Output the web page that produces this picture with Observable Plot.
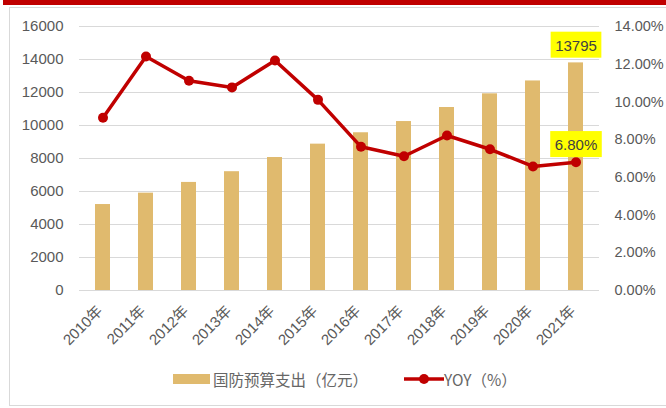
<!DOCTYPE html>
<html><head><meta charset="utf-8">
<script src="https://cdn.jsdelivr.net/npm/d3@7"></script>
<script src="https://cdn.jsdelivr.net/npm/@observablehq/plot@0.6"></script>
<style>
body{margin:0;background:#fff;}
#wrap{position:relative;width:666px;height:408px;overflow:hidden;font-family:"Liberation Sans","Noto Sans CJK SC",sans-serif;}
#topbar{position:absolute;left:3px;top:0;width:663px;height:5px;background:#C00000;}
#frame{position:absolute;left:9px;top:7px;width:680px;height:399px;border:1px solid #D9D9D9;box-sizing:border-box;}
#chart{position:absolute;left:0;top:0;}
.lg{position:absolute;top:368px;height:22px;line-height:22px;font-size:15.5px;color:#666666;white-space:nowrap;font-family:"Noto Sans CJK SC","Liberation Sans",sans-serif;}
</style>
</head><body>
<div id="wrap">
  <div id="topbar"></div>
  <div id="frame"></div>
  <div id="chart"></div>
  <div class="lg" style="left:173px;top:374px;width:37px;height:10px;background:#E0BA6E;"></div>
  <div class="lg" id="lg1" style="left:213px;"></div>
  <svg class="lg" style="left:404px;top:372px;" width="40" height="14"><line x1="0" y1="7" x2="40" y2="7" stroke="#C00000" stroke-width="3.5"/><circle cx="20" cy="7" r="5" fill="#C00000"/></svg>
  <div class="lg" id="lg2" style="left:444px;"></div>
</div>
<script>
const years = ["2010年","2011年","2012年","2013年","2014年","2015年","2016年","2017年","2018年","2019年","2020年","2021年"];
const budget = [5210, 5900, 6550, 7200, 8060, 8870, 9560, 10240, 11090, 11920, 12700, 13795];
const yoy = [9.16, 12.41, 11.12, 10.77, 12.20, 10.11, 7.62, 7.12, 8.22, 7.49, 6.58, 6.80];
const leftTicks = [0, 2000, 4000, 6000, 8000, 10000, 12000, 14000, 16000];
const rightTicks = [0, 2, 4, 6, 8, 10, 12, 14];
const rightTickLabels = ["0.00%","2.00%","4.00%","6.00%","8.00%","10.00%","12.00%","14.00%"];
const legendBar = "国防预算支出（亿元）";
const legendLine = "YOY（%）";
const labelIndex = 11;

const budgetMax = 16000, yoyMax = 14;
const toLeft = p => p / yoyMax * budgetMax;
const data = years.map((year, i) => ({year, budget: budget[i], yoy: yoy[i], yoyScaled: toLeft(yoy[i])}));
const rightTickPos = rightTicks.map(toLeft);

document.getElementById("lg1").textContent = legendBar;
document.getElementById("lg2").textContent = legendLine;

const chart = Plot.plot({
  width: 666, height: 360,
  marginLeft: 79, marginRight: 67, marginTop: 26, marginBottom: 70,
  style: {fontFamily: "'Liberation Sans','Noto Sans CJK SC',sans-serif", color: "#595959", background: "transparent"},
  x: {domain: years, paddingInner: 0.66, paddingOuter: 0.33, align: 0.5, label: null},
  y: {domain: [0, budgetMax], label: null},
  marks: [
    Plot.ruleY(leftTicks, {stroke: "#D9D9D9", strokeWidth: 1}),
    Plot.barY(data, {x: "year", y: "budget", fill: "#E0BA6E"}),
    Plot.lineY(data, {x: "year", y: "yoyScaled", stroke: "#C00000", strokeWidth: 3.5}),
    Plot.dot(data, {x: "year", y: "yoyScaled", r: 5, fill: "#C00000"}),
    Plot.axisY({ticks: leftTicks, anchor: "left", tickSize: 0, tickPadding: 16, fontSize: 15, label: null,
      tickFormat: d => String(d)}),
    Plot.axisY({ticks: rightTickPos, anchor: "right", tickSize: 0, tickPadding: 15, fontSize: 14.5, label: null,
      tickFormat: d => rightTickLabels[rightTickPos.indexOf(d)]}),
    Plot.axisX({tickRotate: -45, tickSize: 0, tickPadding: 18, dx: -3, fontSize: 15, label: null}),
    Plot.text([data[labelIndex]], {x: "year", y: "budget", text: d => String(d.budget), dy: -17, fontSize: 15, fill: "#404040"}),
    Plot.text([data[labelIndex]], {x: "year", y: "yoyScaled", text: d => d.yoy.toFixed(2) + "%", dy: -17, fontSize: 15, fill: "#404040"})
  ]
});
document.getElementById("chart").appendChild(chart);

// yellow highlight boxes behind the two data labels
const labelTexts = [String(budget[labelIndex]), yoy[labelIndex].toFixed(2) + "%"];
chart.querySelectorAll("text").forEach(t => {
  if (labelTexts.includes(t.textContent)) {
    const b = t.getBBox();
    const r = document.createElementNS("http://www.w3.org/2000/svg", "rect");
    r.setAttribute("x", b.x - 4.5);
    r.setAttribute("y", b.y - 5);
    r.setAttribute("width", b.width + 9);
    r.setAttribute("height", b.height + 9);
    r.setAttribute("fill", "#FFFF00");
    const tr = t.getAttribute("transform");
    if (tr) r.setAttribute("transform", tr);
    t.parentNode.insertBefore(r, t);
  }
});
</script>
</body></html>
